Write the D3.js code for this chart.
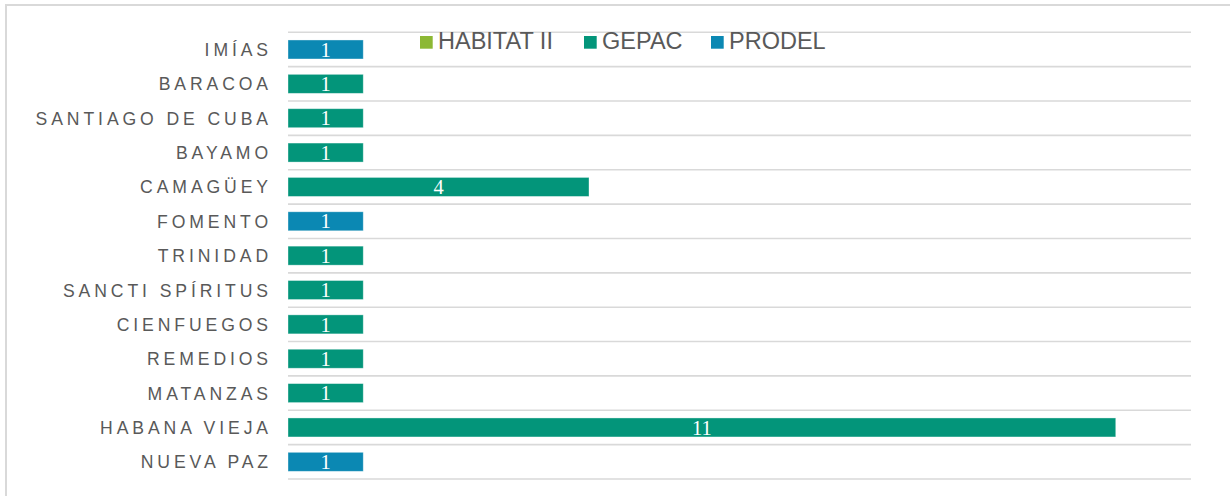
<!DOCTYPE html>
<html>
<head>
<meta charset="utf-8">
<script src="https://cdn.jsdelivr.net/npm/d3@7"></script>
<style>
html,body{margin:0;padding:0;background:#fff;}
svg{display:block;}
</style>
</head>
<body>
<svg id="chart" width="1230" height="496"></svg>
<script>
const categories = ["IMÍAS","BARACOA","SANTIAGO DE CUBA","BAYAMO","CAMAGÜEY","FOMENTO","TRINIDAD","SANCTI SPÍRITUS","CIENFUEGOS","REMEDIOS","MATANZAS","HABANA VIEJA","NUEVA PAZ"];
const seriesNames = ["HABITAT II","GEPAC","PRODEL"];
const habitatII = [0,0,0,0,0,0,0,0,0,0,0,0,0];
const gepac     = [0,1,1,1,4,0,1,1,1,1,1,11,0];
const prodel    = [1,0,0,0,0,1,0,0,0,0,0,0,1];
const colors = ["#8cb834","#03957a","#0b88b3"];
const xMax = 12;

(function(){
const rows = categories.map((c,i)=>({cat:c,"HABITAT II":habitatII[i],"GEPAC":gepac[i],"PRODEL":prodel[i]}));
const stacked = d3.stack().keys(seriesNames)(rows);

const svg = d3.select("#chart");
// outer chart border
svg.append("rect").attr("x",6).attr("y",5).attr("width",1240).attr("height",520)
  .attr("fill","none").attr("stroke","#d9d9d9").attr("stroke-width",2);

const pLeft = 288, pRight = 1191, pTop = 32.3, pBottom = 479;
const x = d3.scaleLinear().domain([0,xMax]).range([pLeft,pRight]);
const y = d3.scaleBand().domain(categories).range([pTop,pBottom]).paddingInner(0.447).paddingOuter(0.2235);
const step = y.step();

// gridlines at category boundaries
const gridYs = d3.range(categories.length+1).map(i=>pTop+i*step);
svg.append("g").selectAll("line").data(gridYs).join("line")
  .attr("x1",pLeft).attr("x2",pRight).attr("y1",d=>d).attr("y2",d=>d)
  .attr("stroke","#d9d9d9").attr("stroke-width",1.6);

// bars
const gBars = svg.append("g");
stacked.forEach((s,si)=>{
  gBars.append("g").selectAll("rect").data(s.filter(d=>d[1]-d[0]>0)).join("rect")
    .attr("x",d=>x(d[0])).attr("width",d=>x(d[1])-x(d[0]))
    .attr("y",d=>y(d.data.cat)).attr("height",y.bandwidth())
    .attr("fill",colors[si]).attr("stroke","rgba(255,255,255,0.45)").attr("stroke-width",0.8);
  gBars.append("g").selectAll("text").data(s.filter(d=>d[1]-d[0]>0)).join("text")
    .attr("x",d=>(x(d[0])+x(d[1]))/2)
    .attr("y",d=>y(d.data.cat)+y.bandwidth()/2+7.2)
    .attr("text-anchor","middle")
    .attr("font-family","'Liberation Serif','DejaVu Serif',serif")
    .attr("font-size",20.5).attr("fill","#fff")
    .text(d=>d[1]-d[0]);
});

// category axis labels
const yAxis = d3.axisLeft(y).tickSize(0).tickPadding(0);
const ga = svg.append("g").attr("transform",`translate(272,0)`).call(yAxis);
ga.select(".domain").remove();
ga.selectAll("text")
  .attr("font-family","'Liberation Sans',Arial,sans-serif")
  .attr("font-size",17.6).attr("fill","#595959")
  .attr("letter-spacing","3.9px")
  .attr("dy",null).attr("dominant-baseline","auto")
  .attr("y",6.5);

// legend
const legendX = [420,584,711];
const lg = svg.append("g");
seriesNames.forEach((n,i)=>{
  lg.append("rect").attr("x",legendX[i]).attr("y",36).attr("width",12.7).attr("height",12.7).attr("fill",colors[i]);
  lg.append("text").attr("x",legendX[i]+18).attr("y",49.3)
    .attr("font-family","'Liberation Sans',Arial,sans-serif")
    .attr("font-size",23.5).attr("fill","#595959").text(n);
});
})();
</script>
</body>
</html>
